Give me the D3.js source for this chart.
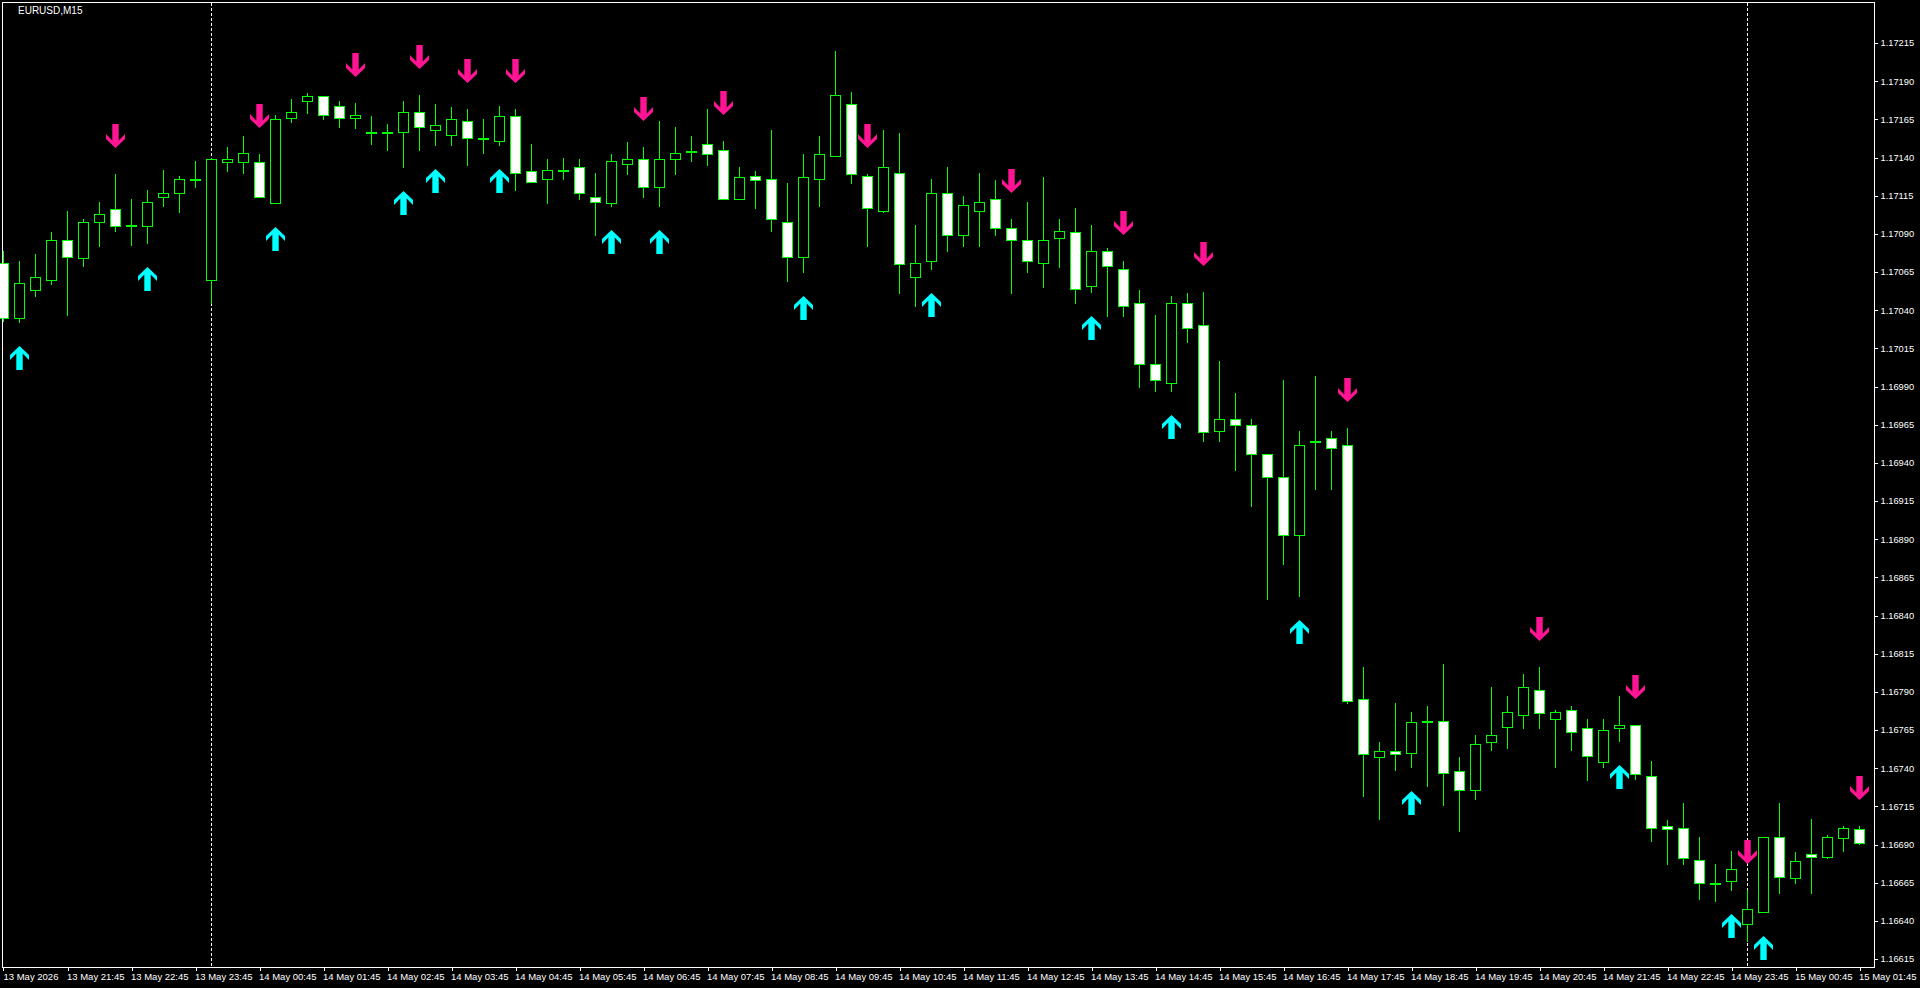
<!DOCTYPE html>
<html><head><meta charset="utf-8">
<script src="https://cdn.jsdelivr.net/npm/d3@7"></script>
<style>html,body{margin:0;padding:0;background:#000;overflow:hidden}</style>
</head><body>
<svg id="chart" width="1920" height="988"></svg>
<script>
// ---- data (EURUSD, M15) ----
const symbolTitle = "EURUSD,M15";
const openP = [1.17071,1.17035,1.17053,1.17060,1.17086,1.17074,1.17098,1.17106,1.17096,1.17095,
1.17114,1.17117,1.17126,1.17060,1.17137,1.17137,1.17137,1.17110,1.17166,1.17177,
1.17180,1.17174,1.17166,1.17157,1.17157,1.17157,1.17170,1.17158,1.17155,1.17164,
1.17153,1.17151,1.17167,1.17131,1.17126,1.17132,1.17134,1.17114,1.17110,1.17136,
1.17139,1.17121,1.17139,1.17144,1.17149,1.17145,1.17113,1.17128,1.17126,1.17098,
1.17075,1.17126,1.17141,1.17175,1.17128,1.17105,1.17130,1.17062,1.17072,1.17117,
1.17089,1.17105,1.17113,1.17094,1.17086,1.17071,1.17087,1.17091,1.17056,1.17079,
1.17067,1.17045,1.17005,1.16992,1.17045,1.17030,1.16961,1.16969,1.16965,1.16946,
1.16931,1.16893,1.16954,1.16956,1.16952,1.16785,1.16747,1.16751,1.16750,1.16771,
1.16771,1.16738,1.16726,1.16757,1.16767,1.16775,1.16791,1.16772,1.16778,1.16766,
1.16744,1.16766,1.16768,1.16735,1.16702,1.16701,1.16680,1.16665,1.16666,1.16638,
1.16646,1.16695,1.16668,1.16684,1.16682,1.16694,1.16700];
const highP = [1.17079,1.17072,1.17077,1.17091,1.17105,1.17100,1.17111,1.17129,1.17113,1.17119,
1.17132,1.17128,1.17138,1.17140,1.17147,1.17154,1.17142,1.17168,1.17178,1.17182,
1.17180,1.17177,1.17176,1.17167,1.17162,1.17177,1.17181,1.17175,1.17173,1.17172,
1.17165,1.17174,1.17172,1.17149,1.17139,1.17140,1.17139,1.17130,1.17142,1.17150,
1.17147,1.17164,1.17160,1.17154,1.17172,1.17151,1.17134,1.17131,1.17158,1.17123,
1.17142,1.17154,1.17210,1.17183,1.17129,1.17158,1.17156,1.17096,1.17126,1.17134,
1.17115,1.17130,1.17125,1.17100,1.17111,1.17127,1.17100,1.17107,1.17096,1.17081,
1.17072,1.17053,1.17037,1.17049,1.17051,1.17052,1.17007,1.16986,1.16969,1.16946,
1.16994,1.16961,1.16997,1.16961,1.16963,1.16806,1.16757,1.16783,1.16777,1.16781,
1.16808,1.16747,1.16762,1.16793,1.16787,1.16802,1.16806,1.16778,1.16781,1.16772,
1.16772,1.16787,1.16768,1.16745,1.16706,1.16717,1.16695,1.16677,1.16686,1.16660,
1.16695,1.16717,1.16685,1.16707,1.16696,1.16702,1.16702];
const lowP = [1.17033,1.17032,1.17049,1.17057,1.17037,1.17069,1.17082,1.17092,1.17083,1.17084,
1.17108,1.17104,1.17121,1.17045,1.17131,1.17130,1.17114,1.17110,1.17163,1.17169,
1.17165,1.17160,1.17159,1.17149,1.17145,1.17134,1.17145,1.17148,1.17148,1.17135,
1.17143,1.17148,1.17119,1.17124,1.17110,1.17126,1.17113,1.17089,1.17108,1.17129,
1.17114,1.17108,1.17129,1.17138,1.17135,1.17113,1.17113,1.17107,1.17092,1.17059,
1.17065,1.17108,1.17141,1.17123,1.17082,1.17104,1.17051,1.17043,1.17067,1.17079,
1.17082,1.17082,1.17089,1.17051,1.17065,1.17055,1.17068,1.17045,1.17052,1.17036,
1.17036,1.16990,1.16987,1.16987,1.17019,1.16954,1.16954,1.16935,1.16912,1.16851,
1.16874,1.16853,1.16923,1.16923,1.16783,1.16722,1.16707,1.16739,1.16741,1.16728,
1.16716,1.16699,1.16720,1.16752,1.16753,1.16766,1.16766,1.16741,1.16752,1.16732,
1.16741,1.16758,1.16733,1.16692,1.16677,1.16677,1.16654,1.16653,1.16660,1.16627,
1.16646,1.16658,1.16665,1.16658,1.16681,1.16686,1.16690];
const closeP = [1.17035,1.17058,1.17062,1.17086,1.17075,1.17098,1.17103,1.17095,1.17096,1.17111,
1.17117,1.17126,1.17126,1.17139,1.17139,1.17143,1.17114,1.17165,1.17170,1.17180,
1.17168,1.17166,1.17168,1.17157,1.17157,1.17170,1.17160,1.17161,1.17165,1.17153,
1.17153,1.17167,1.17130,1.17124,1.17132,1.17132,1.17117,1.17111,1.17138,1.17139,
1.17121,1.17139,1.17143,1.17144,1.17142,1.17113,1.17127,1.17125,1.17100,1.17075,
1.17127,1.17142,1.17181,1.17129,1.17107,1.17134,1.17070,1.17071,1.17117,1.17089,
1.17109,1.17111,1.17094,1.17086,1.17072,1.17086,1.17092,1.17054,1.17079,1.17069,
1.17043,1.17005,1.16994,1.17045,1.17028,1.16960,1.16969,1.16965,1.16946,1.16931,
1.16893,1.16952,1.16954,1.16950,1.16784,1.16749,1.16751,1.16749,1.16770,1.16771,
1.16737,1.16726,1.16756,1.16762,1.16777,1.16793,1.16776,1.16777,1.16764,1.16748,
1.16765,1.16768,1.16736,1.16701,1.16700,1.16681,1.16665,1.16665,1.16674,1.16648,
1.16695,1.16669,1.16679,1.16682,1.16695,1.16701,1.16691];
const upSignals = [1,9,17,25,27,31,38,41,50,58,68,73,81,88,101,108,110];
const downSignals = [7,16,22,26,29,32,40,45,54,63,70,75,84,96,102,109,116];
const separatorBars = [13,109];
const priceTicks = ["1.17215","1.17190","1.17165","1.17140","1.17115","1.17090","1.17065","1.17040",
"1.17015","1.16990","1.16965","1.16940","1.16915","1.16890","1.16865","1.16840","1.16815","1.16790",
"1.16765","1.16740","1.16715","1.16690","1.16665","1.16640","1.16615"];
const firstDateLabel = "13 May 2026";
const timeTickBars = [4,8,12,16,20,24,28,32,36,40,44,48,52,56,60,64,68,72,76,80,84,88,92,96,100,104,108,112,116];
const timeLabels = ["13 May 21:45","13 May 22:45","13 May 23:45","14 May 00:45","14 May 01:45","14 May 02:45",
"14 May 03:45","14 May 04:45","14 May 05:45","14 May 06:45","14 May 07:45","14 May 08:45","14 May 09:45",
"14 May 10:45","14 May 11:45","14 May 12:45","14 May 13:45","14 May 14:45","14 May 15:45","14 May 16:45",
"14 May 17:45","14 May 18:45","14 May 19:45","14 May 20:45","14 May 21:45","14 May 22:45","14 May 23:45",
"15 May 00:45","15 May 01:45"];

// ---- layout ----
const W = 1920, H = 988;
const plot = {left: 2, right: 1874, top: 2, bottom: 967};
const FONT = "'Liberation Sans', Arial, sans-serif";
const LIME = "#00ff00", CYAN = "#00ffff", PINK = "#ff1493";

const svg = d3.select("#chart");
svg.append("rect").attr("width", W).attr("height", H).attr("fill", "#000");

const n = openP.length;
const x = d3.scaleLinear().domain([0, n - 1]).range([3.5, 1859.5]);
const y = d3.scaleLinear().domain([+priceTicks[priceTicks.length - 1], +priceTicks[0]]).range([959, 43]);

const bars = d3.range(n).map(i => ({i, o: openP[i], h: highP[i], l: lowP[i], c: closeP[i]}));

// period separators
svg.append("g").selectAll("line").data(separatorBars).join("line")
  .attr("x1", d => x(d)).attr("x2", d => x(d))
  .attr("y1", plot.top + 1).attr("y2", plot.bottom)
  .attr("stroke", "#fff").attr("stroke-width", 1).attr("stroke-dasharray", "3,2")
  .attr("shape-rendering", "crispEdges");

const gC = svg.append("g").attr("shape-rendering", "crispEdges");
// wicks
gC.selectAll("line.wick").data(bars).join("line").attr("class", "wick")
  .attr("x1", d => x(d.i)).attr("x2", d => x(d.i))
  .attr("y1", d => Math.round(y(d.h))).attr("y2", d => Math.round(y(d.l)) + 1)
  .attr("stroke", LIME).attr("stroke-width", 1);
// bodies
gC.selectAll("rect.body").data(bars).join("rect").attr("class", "body")
  .attr("x", d => x(d.i) - 5).attr("width", 10)
  .attr("y", d => Math.round(y(Math.max(d.o, d.c))) + 0.5)
  .attr("height", d => Math.max(1, Math.round(y(Math.min(d.o, d.c))) - Math.round(y(Math.max(d.o, d.c)))))
  .attr("fill", d => d.c < d.o ? "#fff" : "#000")
  .attr("stroke", LIME).attr("stroke-width", 1);

// arrows
function upPath(cx, ty) {
  return `M${cx},${ty} L${cx+9.5},${ty+9} L${cx+9.5},${ty+14} L${cx+3.2},${ty+7.5} L${cx+3.2},${ty+24} L${cx-3.2},${ty+24} L${cx-3.2},${ty+7.5} L${cx-9.5},${ty+14} L${cx-9.5},${ty+9} Z`;
}
function downPath(cx, by) {
  return `M${cx},${by} L${cx+9.5},${by-9} L${cx+9.5},${by-14} L${cx+3.2},${by-7.5} L${cx+3.2},${by-24} L${cx-3.2},${by-24} L${cx-3.2},${by-7.5} L${cx-9.5},${by-14} L${cx-9.5},${by-9} Z`;
}
svg.append("g").selectAll("path").data(upSignals).join("path")
  .attr("d", i => upPath(x(i), Math.round(y(lowP[i])) + 24))
  .attr("fill", CYAN);
svg.append("g").selectAll("path").data(downSignals).join("path")
  .attr("d", i => downPath(x(i), Math.round(y(highP[i])) - 26))
  .attr("fill", PINK);

// frame
svg.append("rect").attr("x", plot.left + 0.5).attr("y", plot.top + 0.5)
  .attr("width", plot.right - plot.left).attr("height", plot.bottom - plot.top)
  .attr("fill", "none").attr("stroke", "#fff").attr("stroke-width", 1)
  .attr("shape-rendering", "crispEdges");

// price axis
const yAxis = d3.axisRight(y).tickValues(priceTicks.map(Number))
  .tickFormat((d, k) => priceTicks[k]).tickSize(3).tickPadding(3);
const gy = svg.append("g").attr("transform", `translate(${plot.right + 0.5},0)`).call(yAxis);
gy.select(".domain").remove();
gy.selectAll("line").attr("stroke", "#fff").attr("shape-rendering", "crispEdges");
gy.selectAll("text").attr("fill", "#fff").style("font-family", FONT).style("font-size", "9.3px");

// time axis
const xAxis = d3.axisBottom(x).tickValues(timeTickBars)
  .tickFormat((d, k) => timeLabels[k]).tickSize(3).tickPadding(3);
const gx = svg.append("g").attr("transform", `translate(0,${plot.bottom + 0.5})`).call(xAxis);
gx.select(".domain").remove();
gx.selectAll("line").attr("stroke", "#fff").attr("shape-rendering", "crispEdges");
gx.selectAll("text").attr("fill", "#fff").attr("text-anchor", "start").attr("x", -1)
  .style("font-family", FONT).style("font-size", "9.5px");
gx.append("line").attr("x1", x(0)).attr("x2", x(0)).attr("y1", 0).attr("y2", 3)
  .attr("stroke", "#fff").attr("shape-rendering", "crispEdges");
gx.append("text").attr("x", x(0)).attr("y", 6).attr("dy", "0.71em").text(firstDateLabel)
  .attr("text-anchor", "start")
  .attr("fill", "#fff").style("font-family", FONT).style("font-size", "9.5px");

// title
svg.append("text").attr("x", 18).attr("y", 14).text(symbolTitle)
  .attr("fill", "#fff").style("font-family", FONT).style("font-size", "10px");
</script>
</body></html>
